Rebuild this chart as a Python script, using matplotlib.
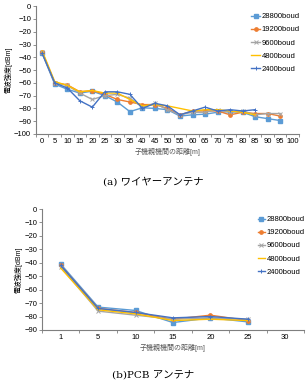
import numpy as np
import matplotlib
matplotlib.use('Agg')
import matplotlib.pyplot as plt

plt.rcParams['font.family'] = ['Liberation Sans', 'Noto Sans CJK JP']

# (a) wire antenna
dist_a = [0, 5, 10, 15, 20, 25, 30, 35, 40, 45, 50, 55, 60, 65, 70, 75, 80, 85, 90, 95]
ticks_a = [str(v) for v in range(0, 105, 5)]
a_28800 = [-37, -61, -65, -68, -66.5, -70, -75, -82.5, -79.5, -80, -81, -86, -85, -84.5, -83, -82.5, -83, -86.5, -88, -89.5]
a_19200 = [-36, -60, -61.5, -67, -66, -69, -73, -75, -77, -77, -80, -85, -82, -82, -82, -85, -83, -84, -84, -86]
a_9600 = [-36, -60, -62, -68, -73, -70, -69, -72, -79, -76, -81, -85, -83, -83, -81, -83, -82, -85, -84, -84]
a_4800 = [-35, -59, -62, -67, -66, -68, -68, -73, -78, -77, -78, -80, -82, -81, -81, -82, -83, -85]
a_2400 = [-37, -60, -64, -74, -79, -67, -67, -69, -80, -76, -78, -85, -82, -79, -82, -81, -82, -81]

# (b) PCB antenna
dist_b = [1, 5, 10, 15, 20, 25]
ticks_b = ['1', '5', '10', '15', '20', '25', '30']
b_28800 = [-41, -73, -75.5, -84.5, -81, -84]
b_19200 = [-42, -74, -77, -82, -79, -83]
b_9600 = [-43, -76, -79, -82, -81, -82]
b_4800 = [-44, -75, -78, -83, -82, -83]
b_2400 = [-42, -74, -77, -81, -80, -82]

labels = ['28800boud', '19200boud', '9600boud', '4800boud', '2400boud']
styles = [dict(color='#5B9BD5', marker='s', ms=3.2),
          dict(color='#ED7D31', marker='o', ms=2.4),
          dict(color='#A5A5A5', marker='x', ms=2.2, mew=0.7),
          dict(color='#FFC000', marker=None),
          dict(color='#4472C4', marker='+', ms=2.5, mew=0.7)]

fig = plt.figure(figsize=(3.07, 3.85), dpi=100)
axc = '#7f7f7f'
tfs = 5.5


def setup(ax, ncat, ticklabels, ylim, ystep):
    ax.set_xlim(-0.5, ncat - 0.5)
    ax.set_ylim(*ylim)
    ax.set_xticks(range(ncat))
    ax.set_xticklabels(ticklabels, fontsize=tfs)
    ax.set_xticks(np.arange(-0.5, ncat, 1), minor=True)
    ax.tick_params(axis='x', which='major', length=0, pad=3)
    ax.tick_params(axis='x', which='minor', length=2, color=axc, width=0.6)
    ax.set_yticks(np.arange(ylim[0], ylim[1] + 1, ystep))
    ax.tick_params(axis='y', labelsize=tfs, length=2, color=axc, width=0.6, pad=1.5)
    for s in ['top', 'right']:
        ax.spines[s].set_visible(False)
    for s in ['left', 'bottom']:
        ax.spines[s].set_color(axc)
        ax.spines[s].set_linewidth(0.8)
    ax.set_ylabel('電波強度[dBm]', fontsize=5, labelpad=1)
    ax.set_xlabel('子機親機間の距離[m]', fontsize=5, labelpad=2, color='#555555')


ax1 = fig.add_axes([0.117, 0.652, 0.857, 0.332])
series_a = [a_28800, a_19200, a_9600, a_4800, a_2400]
for vals, lab, st in zip(series_a, labels, styles):
    pos = [d / 5 for d in dist_a[:len(vals)]]
    ax1.plot(pos, vals, lw=1.0, label=lab, **st)
setup(ax1, len(ticks_a), ticks_a, (-100, 0), 10)
ax1.legend(loc='upper right', bbox_to_anchor=(1.03, 1.0), frameon=False,
           fontsize=5.5, handlelength=1.2, handletextpad=0.2, labelspacing=0.75)

ax2 = fig.add_axes([0.137, 0.143, 0.853, 0.314])
series_b = [b_28800, b_19200, b_9600, b_4800, b_2400]
for vals, lab, st in zip(series_b, labels, styles):
    pos = [ticks_b.index(str(d)) for d in dist_b]
    ax2.plot(pos, vals, lw=1.0, label=lab, **st)
setup(ax2, len(ticks_b), ticks_b, (-90, 0), 10)
ax2.legend(loc='upper right', bbox_to_anchor=(1.03, 1.0), frameon=False,
           fontsize=5.5, handlelength=1.0, handletextpad=0.2, labelspacing=0.75)

cap = ['DejaVu Serif', 'Noto Sans CJK JP']
fig.text(0.5, 1 - 182 / 385, '(a) ワイヤーアンテナ', ha='center', va='center',
         fontsize=7.5, family=cap)
fig.text(0.5, 1 - 375 / 385, '(b)PCB アンテナ', ha='center', va='center',
         fontsize=7.5, family=cap)

fig.savefig('out.png', dpi=100)
